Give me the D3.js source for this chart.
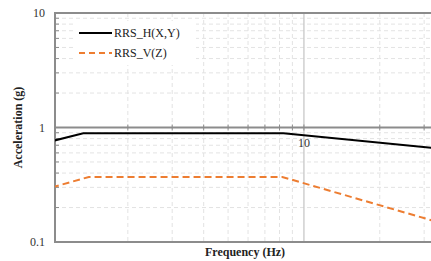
<!DOCTYPE html>
<html>
<head>
<meta charset="utf-8">
<script src="https://cdn.jsdelivr.net/npm/d3@7"></script>
<style>
  body { margin: 0; background: #fff; }
  svg { display: block; }
  text { font-family: 'Liberation Serif', 'Times New Roman', serif; }
</style>
</head>
<body>
<div id="chart"></div>
<script>
// RRS curves, log-log
const freqH = [1, 1.33, 8.3, 33];
const accH  = [0.76, 0.89, 0.89, 0.66];
const freqV = [1, 1.4, 8.2, 33];
const accV  = [0.30, 0.37, 0.37, 0.152];

const seriesNames = ["RRS_H(X,Y)", "RRS_V(Z)"];
const yTickLabels = ["10", "1", "0.1"];
const yTickVals = [10, 1, 0.1];
const xMinor = [2, 3, 4, 5, 6, 7, 8, 9, 20, 30];
const yMinor = [0.2, 0.3, 0.4, 0.5, 0.6, 0.7, 0.8, 0.9, 2, 3, 4, 5, 6, 7, 8, 9];

const W = 431, H = 261;
const svg = d3.select("#chart").append("svg")
  .attr("width", W).attr("height", H);

// 1 Hz sits just left of the plot edge
const x = d3.scaleLog().domain([1, 35]).range([52, 441]);
const y = d3.scaleLog().domain([0.1, 10]).range([242, 13]);

const pL = 55, pR = W, pT = 13, pB = 242;

svg.append("clipPath").attr("id", "plot")
  .append("rect").attr("x", pL).attr("y", pT - 2)
  .attr("width", pR - pL).attr("height", pB - pT + 4);

const grid = svg.append("g");
// minor grid, dashed
grid.selectAll(".gx").data(xMinor).enter().append("line")
  .attr("x1", d => x(d)).attr("x2", d => x(d))
  .attr("y1", pT).attr("y2", pB)
  .attr("stroke", "#e3e3e3").attr("stroke-dasharray", "4,3");
grid.selectAll(".gy").data(yMinor).enter().append("line")
  .attr("x1", pL).attr("x2", pR)
  .attr("y1", d => y(d)).attr("y2", d => y(d))
  .attr("stroke", "#e3e3e3").attr("stroke-dasharray", "4,3");
// major vertical at 10
grid.append("line")
  .attr("x1", x(10)).attr("x2", x(10)).attr("y1", pT).attr("y2", pB)
  .attr("stroke", "#c8c8c8").attr("stroke-width", 1.3);

//borders
svg.append("line").attr("x1", pL).attr("x2", pR).attr("y1", pT).attr("y2", pT)
  .attr("stroke", "#8c8c8c").attr("stroke-width", 2);
svg.append("line").attr("x1", pL).attr("x2", pR).attr("y1", pB).attr("y2", pB)
  .attr("stroke", "#8c8c8c").attr("stroke-width", 2);
svg.append("line").attr("x1", pL).attr("x2", pL).attr("y1", pT - 1).attr("y2", pB + 1)
  .attr("stroke", "#8c8c8c").attr("stroke-width", 2);

// left minor ticks (inside)
svg.selectAll(".ty").data(yMinor).enter().append("line")
  .attr("x1", pL).attr("x2", pL + 4)
  .attr("y1", d => y(d)).attr("y2", d => y(d))
  .attr("stroke", "#8c8c8c").attr("stroke-width", 1);

// x axis crossing at y = 1
const xAxisY = y(1);
svg.append("line").attr("x1", pL).attr("x2", pR).attr("y1", xAxisY).attr("y2", xAxisY)
  .attr("stroke", "#8c8c8c").attr("stroke-width", 2);
svg.selectAll(".tx").data(xMinor.concat([10])).enter().append("line")
  .attr("x1", d => x(d)).attr("x2", d => x(d))
  .attr("y1", xAxisY - 3).attr("y2", xAxisY + 3)
  .attr("stroke", "#8c8c8c").attr("stroke-width", 1);
svg.append("text").attr("x", x(10)).attr("y", xAxisY + 19)
  .attr("text-anchor", "middle")
  .style("font-size", "12px")
  .attr("fill", "#333").text("10");

// y tick labels
svg.selectAll(".yl").data(yTickVals).enter().append("text")
  .attr("x", 45).attr("y", d => y(d) + 4)
  .attr("text-anchor", "end")
  .style("font-size", "12px")
  .attr("fill", "#333").text((d, i) => yTickLabels[i]);

// curves
const line = d3.line().x(d => x(d[0])).y(d => y(d[1]));
const plot = svg.append("g").attr("clip-path", "url(#plot)");
plot.append("path").datum(d3.zip(freqH, accH))
  .attr("d", line).attr("fill", "none")
  .attr("stroke", "#000").attr("stroke-width", 2);
plot.append("path").datum(d3.zip(freqV, accV))
  .attr("d", line).attr("fill", "none")
  .attr("stroke", "#ED7D31").attr("stroke-width", 2)
  .attr("stroke-dasharray", "7,4");

// legend
const legend = svg.append("g");
legend.append("rect").attr("x", 74).attr("y", 21).attr("width", 122).attr("height", 44)
  .attr("fill", "#fff");
const colors = ["#000", "#ED7D31"];
seriesNames.forEach((name, i) => {
  const row = legend.append("g").attr("transform", `translate(79, ${33 + i * 20})`);
  row.append("line").attr("x1", 0).attr("x2", 33).attr("y1", 0).attr("y2", 0)
    .attr("stroke", colors[i]).attr("stroke-width", 2)
    .attr("stroke-dasharray", i ? "6,4" : null);
  row.append("text").attr("x", 35).attr("y", 4)
    .style("font-size", "12px")
    .attr("fill", "#222").text(name);
});

// axis titles
svg.append("text")
  .attr("transform", `translate(22, ${y(1)}) rotate(-90)`)
  .attr("text-anchor", "middle")
  .style("font-size", "12px")
  .style("font-weight", "bold").attr("fill", "#222")
  .text("Acceleration (g)");
svg.append("text")
  .attr("x", 245).attr("y", 256)
  .attr("text-anchor", "middle")
  .style("font-size", "12px")
  .style("font-weight", "bold").attr("fill", "#222")
  .text("Frequency (Hz)");
</script>
</body>
</html>
